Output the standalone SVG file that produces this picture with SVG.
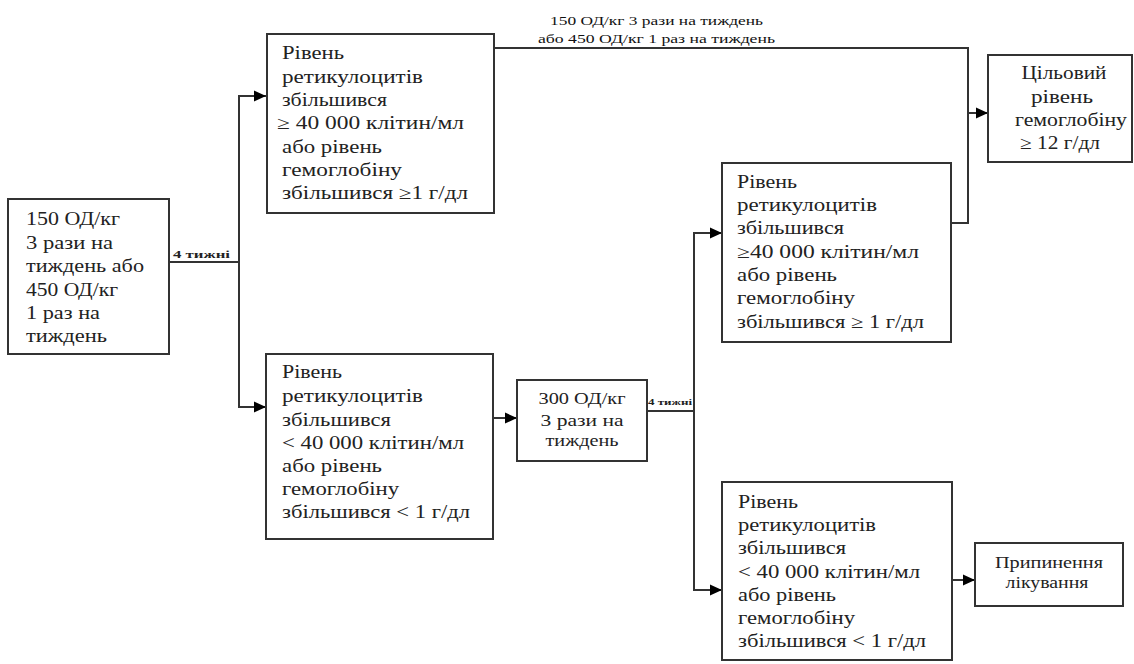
<svg xmlns="http://www.w3.org/2000/svg" width="1134" height="664" viewBox="0 0 1134 664">
<style>
.box{fill:#fff;stroke:#333;stroke-width:2}
text{font-family:"Liberation Serif","DejaVu Serif",serif}
.t{font-size:18px;fill:#222}
.t17{font-size:17px}
.t15{font-size:16.5px}
.c{text-anchor:middle}
.lbl{font-size:11px;font-weight:bold;fill:#222}
.lbl8{font-size:8px}
.top{font-size:12px;font-weight:normal;fill:#111}
.ln{fill:none;stroke:#333;stroke-width:2}
</style>
<defs>
<marker id="ah" markerUnits="userSpaceOnUse" markerWidth="13" markerHeight="12" refX="12" refY="6" orient="auto">
<path d="M0,0.5 L12,6 L0,11.5 z" fill="#000"/>
</marker>
</defs>
<rect width="1134" height="664" fill="#fff"/>
<g id="connectors">
<line class="ln" x1="169" y1="262" x2="239" y2="262"/>
<line class="ln" x1="239" y1="95" x2="239" y2="408"/>
<line class="ln" x1="238" y1="96" x2="266" y2="96" marker-end="url(#ah)"/>
<line class="ln" x1="238" y1="407" x2="266" y2="407" marker-end="url(#ah)"/>
<line class="ln" x1="494" y1="418" x2="517" y2="418" marker-end="url(#ah)"/>
<line class="ln" x1="647" y1="411" x2="694" y2="411"/>
<line class="ln" x1="694" y1="232" x2="694" y2="591"/>
<line class="ln" x1="693" y1="233" x2="722" y2="233" marker-end="url(#ah)"/>
<line class="ln" x1="693" y1="590" x2="722" y2="590" marker-end="url(#ah)"/>
<line class="ln" x1="952" y1="580" x2="975" y2="580" marker-end="url(#ah)"/>
<polyline class="ln" points="494,48 968,48 968,223 951,223"/>
<line class="ln" x1="968" y1="113" x2="988" y2="113" marker-end="url(#ah)"/>
<text class="lbl" x="173" y="258" textLength="57" lengthAdjust="spacingAndGlyphs">4 тижні</text>
<text class="lbl lbl8" x="648" y="405" textLength="44" lengthAdjust="spacingAndGlyphs">4 тижні</text>
<text class="lbl top" x="550" y="25" textLength="213" lengthAdjust="spacingAndGlyphs">150 ОД/кг 3 рази на тиждень</text>
<text class="lbl top" x="538" y="43" textLength="237" lengthAdjust="spacingAndGlyphs">або 450 ОД/кг 1 раз на тиждень</text>
</g>
<g id="start">
<rect class="box" x="8" y="199" width="161" height="155"/>
<text class="t" x="26" y="225" textLength="94" lengthAdjust="spacingAndGlyphs">150 ОД/кг</text>
<text class="t" x="26" y="249" textLength="87" lengthAdjust="spacingAndGlyphs">3 рази на</text>
<text class="t" x="26" y="272" textLength="118" lengthAdjust="spacingAndGlyphs">тиждень або</text>
<text class="t" x="26" y="296" textLength="92" lengthAdjust="spacingAndGlyphs">450 ОД/кг</text>
<text class="t" x="26" y="319" textLength="74" lengthAdjust="spacingAndGlyphs">1 раз на</text>
<text class="t" x="26" y="342" textLength="81" lengthAdjust="spacingAndGlyphs">тиждень</text>
</g>
<g id="up1">
<rect class="box" x="267" y="34" width="227" height="179"/>
<text class="t" x="282" y="59" textLength="62" lengthAdjust="spacingAndGlyphs">Рівень</text>
<text class="t" x="282" y="83" textLength="141" lengthAdjust="spacingAndGlyphs">ретикулоцитів</text>
<text class="t" x="282" y="106" textLength="105" lengthAdjust="spacingAndGlyphs">збільшився</text>
<text class="t" x="277" y="129" textLength="187" lengthAdjust="spacingAndGlyphs">≥ 40 000 клітин/мл</text>
<text class="t" x="282" y="153" textLength="100" lengthAdjust="spacingAndGlyphs">або рівень</text>
<text class="t" x="282" y="176" textLength="120" lengthAdjust="spacingAndGlyphs">гемоглобіну</text>
<text class="t" x="282" y="199" textLength="186" lengthAdjust="spacingAndGlyphs">збільшився ≥1 г/дл</text>
</g>
<g id="down1">
<rect class="box" x="266" y="354" width="227" height="185"/>
<text class="t" x="282" y="378" textLength="60" lengthAdjust="spacingAndGlyphs">Рівень</text>
<text class="t" x="282" y="402" textLength="141" lengthAdjust="spacingAndGlyphs">ретикулоцитів</text>
<text class="t" x="282" y="426" textLength="109" lengthAdjust="spacingAndGlyphs">збільшився</text>
<text class="t" x="282" y="449" textLength="182" lengthAdjust="spacingAndGlyphs">&lt; 40 000 клітин/мл</text>
<text class="t" x="282" y="472" textLength="100" lengthAdjust="spacingAndGlyphs">або рівень</text>
<text class="t" x="282" y="495" textLength="117" lengthAdjust="spacingAndGlyphs">гемоглобіну</text>
<text class="t" x="282" y="518" textLength="188" lengthAdjust="spacingAndGlyphs">збільшився &lt; 1 г/дл</text>
</g>
<g id="dose300">
<rect class="box" x="517" y="380" width="130" height="81"/>
<text class="t t17 c" x="582" y="404" textLength="87" lengthAdjust="spacingAndGlyphs">300 ОД/кг</text>
<text class="t t17 c" x="582" y="426" textLength="83" lengthAdjust="spacingAndGlyphs">3 рази на</text>
<text class="t t17 c" x="582" y="446" textLength="73" lengthAdjust="spacingAndGlyphs">тиждень</text>
</g>
<g id="up2">
<rect class="box" x="722" y="163" width="229" height="179"/>
<text class="t" x="737" y="188" textLength="60" lengthAdjust="spacingAndGlyphs">Рівень</text>
<text class="t" x="737" y="211" textLength="140" lengthAdjust="spacingAndGlyphs">ретикулоцитів</text>
<text class="t" x="737" y="234" textLength="107" lengthAdjust="spacingAndGlyphs">збільшився</text>
<text class="t" x="737" y="258" textLength="182" lengthAdjust="spacingAndGlyphs">≥40 000 клітин/мл</text>
<text class="t" x="737" y="281" textLength="100" lengthAdjust="spacingAndGlyphs">або рівень</text>
<text class="t" x="737" y="304" textLength="118" lengthAdjust="spacingAndGlyphs">гемоглобіну</text>
<text class="t" x="737" y="328" textLength="187" lengthAdjust="spacingAndGlyphs">збільшився ≥ 1 г/дл</text>
</g>
<g id="down2">
<rect class="box" x="722" y="482" width="230" height="178"/>
<text class="t" x="738" y="508" textLength="60" lengthAdjust="spacingAndGlyphs">Рівень</text>
<text class="t" x="738" y="531" textLength="138" lengthAdjust="spacingAndGlyphs">ретикулоцитів</text>
<text class="t" x="738" y="554" textLength="108" lengthAdjust="spacingAndGlyphs">збільшився</text>
<text class="t" x="738" y="578" textLength="182" lengthAdjust="spacingAndGlyphs">&lt; 40 000 клітин/мл</text>
<text class="t" x="738" y="601" textLength="98" lengthAdjust="spacingAndGlyphs">або рівень</text>
<text class="t" x="738" y="624" textLength="117" lengthAdjust="spacingAndGlyphs">гемоглобіну</text>
<text class="t" x="738" y="647" textLength="188" lengthAdjust="spacingAndGlyphs">збільшився &lt; 1 г/дл</text>
</g>
<g id="target">
<rect class="box" x="988" y="55" width="144" height="107"/>
<text class="t c" x="1064" y="79" textLength="85" lengthAdjust="spacingAndGlyphs">Цільовий</text>
<text class="t c" x="1062" y="103" textLength="62" lengthAdjust="spacingAndGlyphs">рівень</text>
<text class="t c" x="1071" y="126" textLength="112" lengthAdjust="spacingAndGlyphs">гемоглобіну</text>
<text class="t c" x="1060" y="149" textLength="80" lengthAdjust="spacingAndGlyphs">≥ 12 г/дл</text>
</g>
<g id="stop">
<rect class="box" x="975" y="543" width="148" height="63"/>
<text class="t t15 c" x="1049" y="568" textLength="108" lengthAdjust="spacingAndGlyphs">Припинення</text>
<text class="t t15 c" x="1047" y="588" textLength="83" lengthAdjust="spacingAndGlyphs">лікування</text>
</g>
</svg>
